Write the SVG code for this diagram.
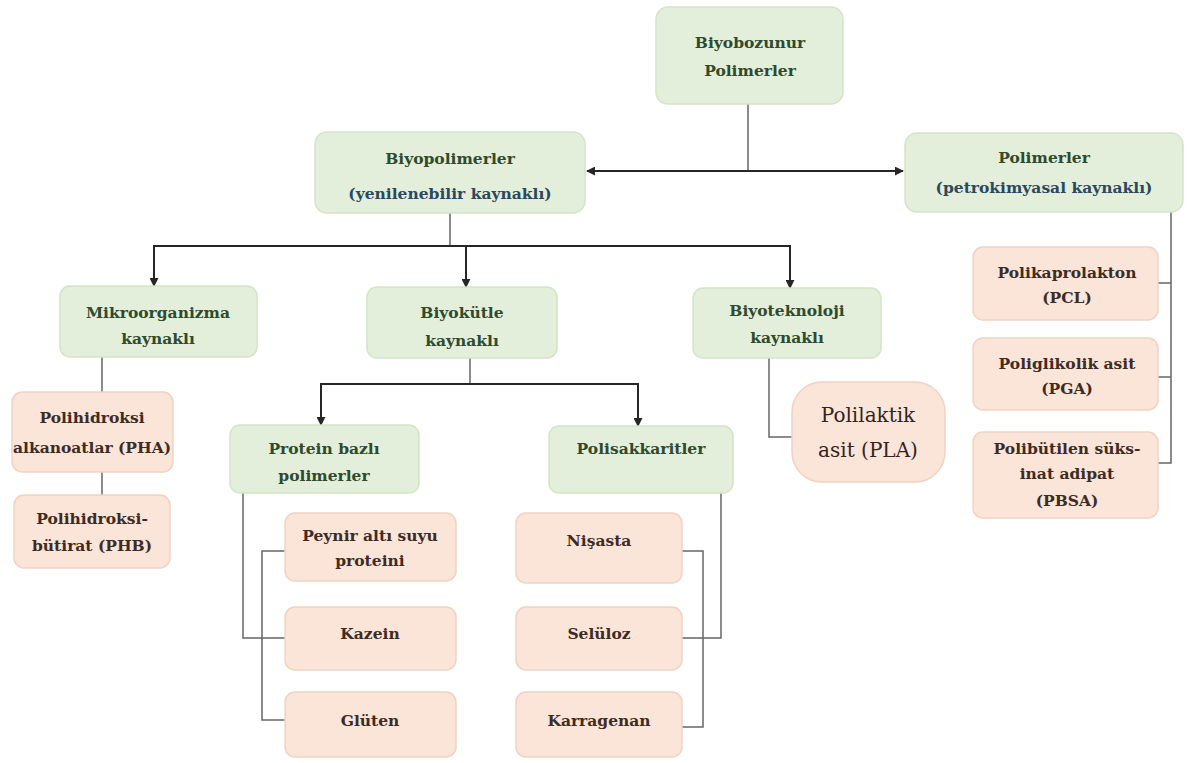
<svg xmlns="http://www.w3.org/2000/svg" width="1187" height="763" viewBox="0 0 1187 763">
<style>
.g{fill:#e3efdb;stroke:#d3e4c7;stroke-width:1.5}
.p{fill:#fbe4d8;stroke:#f1d2c2;stroke-width:1.5}
.t{font-family:"DejaVu Serif","Liberation Serif",serif;font-weight:bold;font-size:15.5px;text-anchor:middle}
.tg{fill:#2f4a2c}
.tb{fill:#2b4860}
.tp{fill:#3d2c24}
.big{font-family:"DejaVu Serif","Liberation Serif",serif;font-size:20px;text-anchor:middle;fill:#33241d}
.a{fill:none;stroke:#262626;stroke-width:2}
.c{fill:none;stroke:#666;stroke-width:1.5}
</style>
<defs>
<marker id="ar" viewBox="0 0 10 10" refX="9" refY="5" markerWidth="9" markerHeight="9" markerUnits="userSpaceOnUse" orient="auto-start-reverse">
<path d="M0,0 L10,5 L0,10 z" fill="#262626"/>
</marker>
</defs>
<rect width="1187" height="763" fill="#ffffff"/>
<g id="connectors">
<path class="c" d="M748,104 V171"/>
<path class="a" d="M587,171 H903" marker-start="url(#ar)" marker-end="url(#ar)"/>
<path class="c" d="M450,213 V246"/>
<path class="a" d="M154,286 V246 H790 V288" marker-start="url(#ar)" marker-end="url(#ar)"/>
<path class="a" d="M466,246 V287" marker-end="url(#ar)"/>
<path class="c" d="M470,358 V384"/>
<path class="a" d="M321,425 V384 H638 V426" marker-start="url(#ar)" marker-end="url(#ar)"/>
<path class="c" d="M102,357 V392 M102,472 V495"/>
<path class="c" d="M769,358 V437 H792"/>
<path class="c" d="M243,493 V638 H285 M285,551 H262 V720 H285"/>
<path class="c" d="M721,493 V638 H682 M682,551 H703 V727 H682"/>
<path class="c" d="M1171,212 V463 H1158 M1158,283 H1171 M1158,377 H1171"/>
</g>
<g id="n-biyobozunur">
<rect class="g" x="656" y="7" width="187" height="97" rx="12"/>
<text class="t tg" x="750" y="48">Biyobozunur</text>
<text class="t tg" x="750" y="76">Polimerler</text>
</g>
<g id="n-biyopolimerler">
<rect class="g" x="315" y="132" width="270" height="81" rx="12"/>
<text class="t tg" x="450" y="164">Biyopolimerler</text>
<text class="t tb" x="450" y="199">(yenilenebilir kaynaklı)</text>
</g>
<g id="n-polimerler">
<rect class="g" x="905" y="133" width="278" height="79" rx="12"/>
<text class="t tg" x="1044" y="163">Polimerler</text>
<text class="t tb" x="1044" y="193">(petrokimyasal kaynaklı)</text>
</g>
<g id="n-mikro">
<rect class="g" x="60" y="286" width="197" height="71" rx="10"/>
<text class="t tg" x="158" y="318">Mikroorganizma</text>
<text class="t tg" x="158" y="344">kaynaklı</text>
</g>
<g id="n-biyokutle">
<rect class="g" x="367" y="287" width="190" height="71" rx="10"/>
<text class="t tg" x="462" y="318">Biyokütle</text>
<text class="t tg" x="462" y="346">kaynaklı</text>
</g>
<g id="n-biyoteknoloji">
<rect class="g" x="693" y="288" width="188" height="70" rx="10"/>
<text class="t tg" x="787" y="316">Biyoteknoloji</text>
<text class="t tg" x="787" y="343">kaynaklı</text>
</g>
<g id="n-pha">
<rect class="p" x="12" y="392" width="161" height="80" rx="10"/>
<text class="t tp" x="92" y="423">Polihidroksi</text>
<text class="t tp" x="92" y="453">alkanoatlar (PHA)</text>
</g>
<g id="n-phb">
<rect class="p" x="14" y="495" width="156" height="73" rx="10"/>
<text class="t tp" x="92" y="524">Polihidroksi-</text>
<text class="t tp" x="92" y="551">bütirat (PHB)</text>
</g>
<g id="n-protein">
<rect class="g" x="230" y="425" width="189" height="68" rx="10"/>
<text class="t tg" x="324" y="454">Protein bazlı</text>
<text class="t tg" x="324" y="481">polimerler</text>
</g>
<g id="n-polisakkaritler">
<rect class="g" x="549" y="426" width="184" height="67" rx="10"/>
<text class="t tg" x="641" y="454">Polisakkaritler</text>
</g>
<g id="n-pla">
<rect class="p" x="792" y="382" width="153" height="100" rx="30"/>
<text class="big" x="868" y="422">Polilaktik</text>
<text class="big" x="868" y="457">asit (PLA)</text>
</g>
<g id="n-peynir">
<rect class="p" x="285" y="513" width="171" height="68" rx="10"/>
<text class="t tp" x="370" y="541">Peynir altı suyu</text>
<text class="t tp" x="370" y="566">proteini</text>
</g>
<g id="n-kazein">
<rect class="p" x="285" y="607" width="171" height="63" rx="10"/>
<text class="t tp" x="370" y="639">Kazein</text>
</g>
<g id="n-gluten">
<rect class="p" x="285" y="692" width="171" height="65" rx="10"/>
<text class="t tp" x="370" y="726">Glüten</text>
</g>
<g id="n-nisasta">
<rect class="p" x="516" y="513" width="166" height="70" rx="10"/>
<text class="t tp" x="599" y="546">Nişasta</text>
</g>
<g id="n-seluloz">
<rect class="p" x="516" y="607" width="166" height="63" rx="10"/>
<text class="t tp" x="599" y="639">Selüloz</text>
</g>
<g id="n-karragenan">
<rect class="p" x="516" y="692" width="166" height="65" rx="10"/>
<text class="t tp" x="599" y="726">Karragenan</text>
</g>
<g id="n-pcl">
<rect class="p" x="973" y="247" width="185" height="73" rx="10"/>
<text class="t tp" x="1067" y="278">Polikaprolakton</text>
<text class="t tp" x="1067" y="303">(PCL)</text>
</g>
<g id="n-pga">
<rect class="p" x="973" y="338" width="185" height="72" rx="10"/>
<text class="t tp" x="1067" y="369">Poliglikolik asit</text>
<text class="t tp" x="1067" y="394">(PGA)</text>
</g>
<g id="n-pbsa">
<rect class="p" x="973" y="432" width="185" height="86" rx="10"/>
<text class="t tp" x="1067" y="454">Polibütilen süks-</text>
<text class="t tp" x="1067" y="479">inat adipat</text>
<text class="t tp" x="1067" y="506">(PBSA)</text>
</g>
</svg>
